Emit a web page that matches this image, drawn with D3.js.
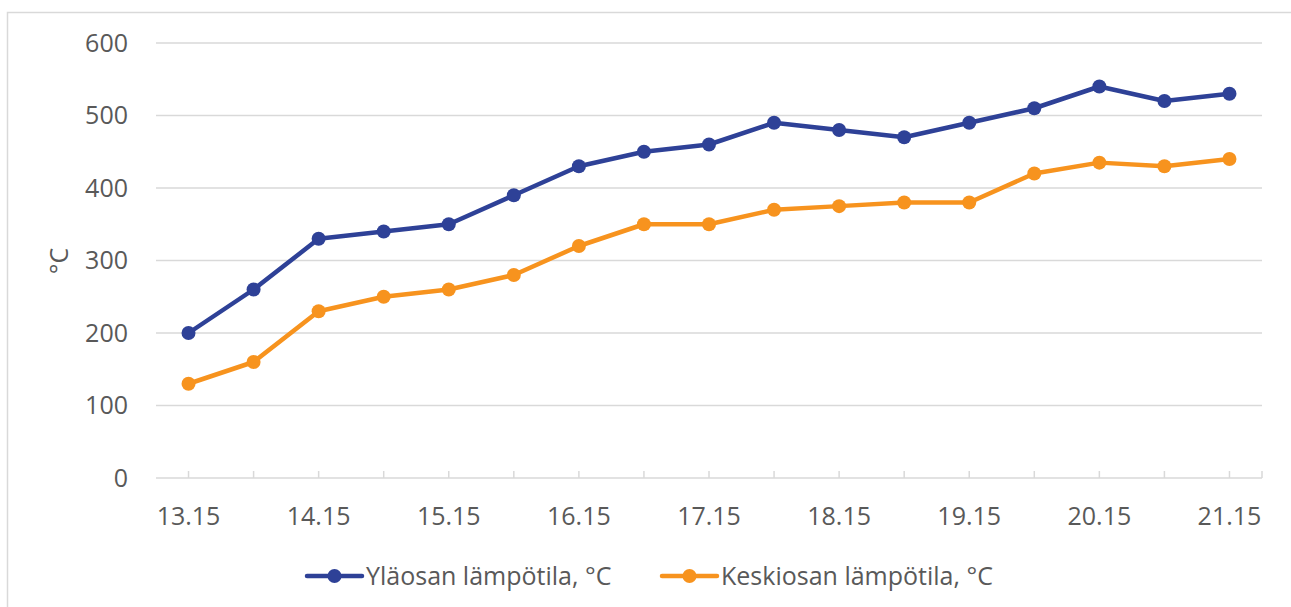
<!DOCTYPE html>
<html>

<head>
    <meta charset="utf-8">
    <script src="https://d3js.org/d3.v7.min.js"></script>
    <style>
        body { margin: 0; background: #fff; }
        text { font-family: "Open Sans", sans-serif; fill: #595959; }
    </style>
</head>

<body>
    <div id="viz"></div>

    <script>

        // categories (times) and the two series
        var times = ["13.15", "13.45", "14.15", "14.45", "15.15", "15.45", "16.15", "16.45",
            "17.15", "17.45", "18.15", "18.45", "19.15", "19.45", "20.15", "20.45", "21.15"]
        var upper = [200, 260, 330, 340, 350, 390, 430, 450, 460, 490, 480, 470, 490, 510, 540, 520, 530]
        var middle = [130, 160, 230, 250, 260, 280, 320, 350, 350, 370, 375, 380, 380, 420, 435, 430, 440]
        var seriesNames = ["Yläosan lämpötila, °C", "Keskiosan lämpötila, °C"]
        var yTicks = [0, 100, 200, 300, 400, 500, 600]

        var colors = ["#2e4197", "#f7931e"]

        var W = 1291, H = 607
        var margin = { top: 43, right: 29, bottom: 129, left: 156 },
            width = W - margin.left - margin.right,
            height = H - margin.top - margin.bottom;

        var root = d3.select("#viz")
            .append("svg")
            .attr("width", W)
            .attr("height", H)

        // chart frame
        root.append("rect")
            .attr("x", 7.5).attr("y", 12.5)
            .attr("width", W + 20).attr("height", H + 20)
            .attr("fill", "none").attr("stroke", "#d9d9d9").attr("stroke-width", 1.5)

        var svg = root.append("g")
            .attr("transform", "translate(" + margin.left + "," + margin.top + ")");

        var x = d3.scaleBand()
            .range([0, width])
            .domain(times)
        var y = d3.scaleLinear()
            .range([height, 0])
            .domain([0, 600])

        var cx = function (d) { return x(d) + x.bandwidth() / 2 }

        // gridlines
        svg.append("g")
            .selectAll("line")
            .data(yTicks.filter(function (d) { return d > 0 }))
            .enter().append("line")
            .attr("x1", 0).attr("x2", width)
            .attr("y1", function (d) { return y(d) }).attr("y2", function (d) { return y(d) })
            .attr("stroke", "#d9d9d9").attr("stroke-width", 1.5)

        // y axis labels
        svg.append("g")
            .selectAll("text")
            .data(yTicks)
            .enter().append("text")
            .attr("x", -28)
            .attr("y", function (d) { return y(d) })
            .attr("dy", "0.35em")
            .attr("text-anchor", "end")
            .style("font-size", "25px")
            .text(function (d) { return d })

        // x axis line + ticks
        var xa = svg.append("g").attr("transform", "translate(0," + height + ")")
        xa.append("line")
            .attr("x1", 0).attr("x2", width)
            .attr("stroke", "#d9d9d9").attr("stroke-width", 1.5)
        xa.selectAll(".tk")
            .data(times.map(cx).concat([width]))
            .enter().append("line")
            .attr("class", "tk")
            .attr("x1", function (d) { return d }).attr("x2", function (d) { return d })
            .attr("y1", 0).attr("y2", -7)
            .attr("stroke", "#d9d9d9").attr("stroke-width", 1.5)
        xa.selectAll("text")
            .data(times.filter(function (d, i) { return i % 2 == 0 }))
            .enter().append("text")
            .attr("x", cx)
            .attr("y", 47)
            .attr("text-anchor", "middle")
            .style("font-size", "25px")
            .text(function (d) { return d })

        // y axis title
        svg.append("text")
            .attr("transform", "translate(" + (59 - margin.left) + "," + (261 - margin.top) + ") rotate(-90)")
            .attr("text-anchor", "middle")
            .attr("dy", "0.35em")
            .style("font-size", "25px")
            .text("°C")

        // lines and markers
        var line = d3.line()
            .x(function (d) { return cx(d.t) })
            .y(function (d) { return y(d.v) })

        ;[upper, middle].forEach(function (vals, s) {
            var pts = vals.map(function (v, i) { return { t: times[i], v: v } })
            svg.append("path")
                .datum(pts)
                .attr("d", line)
                .attr("fill", "none")
                .attr("stroke", colors[s])
                .attr("stroke-width", 4.5)
                .attr("stroke-linejoin", "round")
            svg.selectAll(".m" + s)
                .data(pts)
                .enter().append("circle")
                .attr("class", "m" + s)
                .attr("cx", function (d) { return cx(d.t) })
                .attr("cy", function (d) { return y(d.v) })
                .attr("r", 7)
                .attr("fill", colors[s])
        })

        // legend
        var legX = [307, 662]
        var leg = root.append("g")
        seriesNames.forEach(function (name, s) {
            var g = leg.append("g").attr("transform", "translate(" + legX[s] + ",576)")
            g.append("line")
                .attr("x1", 0).attr("x2", 55)
                .attr("stroke", colors[s]).attr("stroke-width", 4.5).attr("stroke-linecap", "round")
            g.append("circle").attr("cx", 27.5).attr("r", 7).attr("fill", colors[s])
            g.append("text")
                .attr("x", 59)
                .attr("dy", "0.35em")
                .style("font-size", "25px")
                .text(name)
        })

    </script>
</body>

</html>
